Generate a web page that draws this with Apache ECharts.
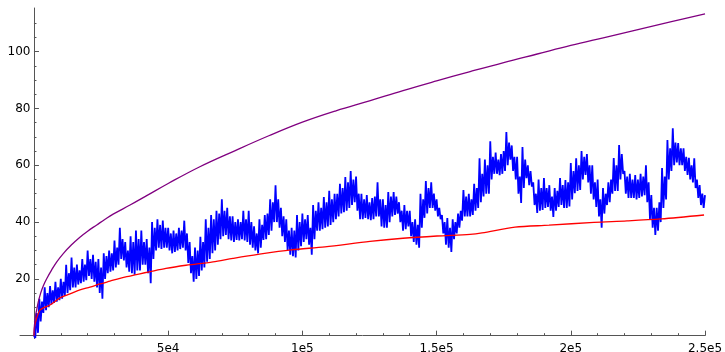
<!DOCTYPE html>
<html>
<head>
<meta charset="utf-8">
<script src="https://cdn.jsdelivr.net/npm/echarts@6/dist/echarts.min.js"></script>
<style>
  html, body { margin: 0; padding: 0; background: #fff; }
  #chart { width: 725px; height: 352px; }
</style>
</head>
<body>
<div id="chart"></div>
<script>
// Axis ranges and ticks
const xMin = -5200, xMax = 250000;
const yMin = -1, yMax = 115.4;
const xMajor = [50000, 100000, 150000, 200000, 250000];
const xTickLabels = ['5e4', '1e5', '1.5e5', '2e5', '2.5e5'];
const xMinor = [10000, 20000, 30000, 40000, 60000, 70000, 80000, 90000, 110000, 120000, 130000, 140000,
                160000, 170000, 180000, 190000, 210000, 220000, 230000, 240000];
const yMajor = [20, 40, 60, 80, 100];
const yTickLabels = ['20', '40', '60', '80', '100'];
const yMinor = [5, 10, 15, 25, 30, 35, 45, 50, 55, 65, 70, 75, 85, 90, 95, 105, 110];

// Fluctuating series: local highs and lows in each 1000-wide step along x
const blueStep = 1000;
const blueHigh = [
  0, 8, 13, 12, 17, 15, 17.5, 16, 19, 17,
  20, 19, 25, 22, 27.5, 24, 25, 23, 27, 25,
  30, 27, 28.5, 26, 27, 24, 29, 28, 30, 29,
  33.5, 31, 38, 34, 33, 30, 35, 33, 37, 34,
  37, 33, 34, 31, 40, 38, 41, 39, 40.5, 38,
  38, 36, 37, 36, 38, 37, 40.5, 36, 33, 28,
  31, 30, 34.8, 33, 41, 38, 42.5, 41, 44, 43,
  48, 44, 45, 42, 42, 40, 41, 40, 44, 41,
  44, 40, 38.5, 36, 41, 39, 42.5, 43, 48, 47,
  53, 48, 45, 42, 41, 37, 38, 37, 42.5, 40,
  43, 41, 42.5, 38, 46, 44, 47, 45, 48.8, 47,
  51, 48, 50, 50, 53.5, 52, 55.9, 54, 58, 55,
  56, 50, 50, 48, 49.5, 47, 48.5, 49, 54, 48,
  48, 46, 50.6, 49, 50.6, 49, 47, 44, 46, 44,
  44, 40, 41, 39, 50, 48, 54.5, 52, 54, 50,
  48, 45, 42.5, 40, 41.4, 38, 41, 40, 43, 44,
  51.3, 49, 50, 48, 53.5, 52, 62.5, 57, 62, 60,
  68.5, 63, 64.5, 62, 64, 65, 71.7, 68, 67, 63,
  63, 56, 66.4, 62, 60, 58, 54, 50, 55, 52,
  55.5, 52, 53, 49, 52, 51, 55.5, 53, 54.8, 54,
  60.8, 58, 62.5, 60, 65, 63, 64, 60, 60, 54,
  55, 48, 52, 50, 54, 55, 62.6, 60, 67.1, 64,
  58, 56, 57, 55, 56.6, 55, 57, 56, 60, 54,
  49.5, 45, 45, 47, 59, 56, 68.9, 66, 73, 68,
  67.8, 66, 66, 63, 62.6, 60, 62.5, 55, 53, 50,
  49.5
];
const blueLow = [
  -0.8, 1, 5, 8, 9, 10, 11, 11.5, 12, 12.5,
  13, 14, 15, 16, 17, 17, 18, 18.5, 19, 19.5,
  21, 20, 19, 17, 15, 13, 20, 22, 22.5, 23,
  24, 25, 27, 26.5, 24, 22.5, 22, 21.5, 23, 23,
  25, 25, 22, 18.5, 27, 30, 31, 30.5, 31, 31,
  30, 29, 29.5, 30, 30.5, 31, 30, 25.6, 22, 19,
  20, 21, 23, 24, 26, 27, 29, 30, 32, 34,
  35, 35.5, 34, 33.5, 33, 33.7, 33.5, 34, 33.5, 33,
  32, 31, 30, 29, 31, 33.7, 34, 35.5, 37, 40,
  40, 38, 35, 33, 30, 28.5, 28, 27.5, 30, 31.5,
  33, 34, 32, 28.5, 34, 37, 37, 37.5, 38, 38.5,
  39, 40, 41, 42, 43, 43.5, 44, 45, 46, 47,
  44, 41, 41, 41.5, 41, 40.7, 41, 42, 42, 38.5,
  38, 38, 40, 42, 42.5, 43, 40, 37, 37.5, 38.5,
  35, 33, 32, 31, 38, 41.5, 43, 45, 45, 44,
  42, 41, 36, 32, 31, 29.5, 34, 36, 38, 40.5,
  42, 42, 42, 42.5, 44, 45, 47, 49, 50, 50,
  55, 57, 57, 56.5, 57, 58, 60, 62, 58, 55,
  50, 46.7, 52, 55.5, 53, 52.5, 46, 43.2, 44, 44.3,
  45, 45.3, 44, 41.8, 44, 45.3, 46, 45, 45, 45.5,
  48, 50.2, 51, 51.3, 55, 56.6, 54, 50, 48, 45.3,
  42, 38, 43, 46, 47, 50, 51, 51, 55, 57,
  50, 48.5, 48.5, 48.5, 48, 48.5, 49, 49.5, 47, 41,
  38, 35.5, 37, 40, 45, 48, 55, 58, 60, 61,
  60, 60, 58, 56.6, 55, 54, 52, 48.5, 46, 45,
  46
];

// Lower smooth curve
const redX = [0, 300, 800, 1500, 2236, 3500, 5962, 9688, 13414, 17140, 20866, 24592, 28318, 32044,
              35770, 39496, 43000, 49183, 56635, 60361, 66695, 74147, 83462, 95758, 108427,
              125194, 137489, 150158, 162454, 166925, 179221, 191889, 208656, 220952, 233620, 249642];
const redY = [0, 3.5, 5.5, 7.5, 9, 9.8, 10.8, 13.3, 14.7, 16.1, 17.1, 18.2, 19.2, 20.2,
              21.0, 21.8, 22.5, 23.7, 24.8, 25.2, 26, 27.2, 28.6, 30.2, 31.3,
              33.2, 34.3, 35.1, 35.7, 36.2, 38.2, 38.9, 39.9, 40.4, 41.1, 42.5];

// Upper envelope curve
const purpleX = [0, 100, 300, 600, 1000, 1600, 2500, 3500, 5000, 6500, 8500, 11000, 14000, 17000,
                 20000, 23400, 26500, 29500, 35800, 42000, 50000, 61800, 75000, 87500, 100000,
                 112500, 125000, 137500, 150000, 162500, 175000, 187500, 200000, 212500, 225000,
                 237500, 250000];
const purpleY = [0, 2.5, 4.8, 7, 9, 11.8, 15, 17.6, 20.5, 23, 26, 29, 32, 34.6,
                 36.8, 39, 41, 42.8, 46, 49.3, 53.6, 59.5, 65.2, 70.4, 75.2,
                 79.2, 82.7, 86.3, 89.7, 93, 96.2, 99.2, 102.2, 105, 107.8,
                 110.6, 113.3];

const zip = (xs, ys) => xs.map((x, i) => [x, ys[i]]);

// Trace each step high then low, so the path sweeps the whole range of the walk
const blueData = [];
blueHigh.forEach((h, i) => {
  blueData.push([i * blueStep, h]);
  if (i < blueHigh.length - 1) blueData.push([i * blueStep + blueStep / 2, blueLow[i]]);
});

const axisColor = '#555555';
const labelFont = { fontFamily: 'DejaVu Sans', fontSize: 12, color: '#000' };

const chart = echarts.init(document.getElementById('chart'), null, { renderer: 'canvas' });
chart.setOption({
  animation: false,
  backgroundColor: '#ffffff',
  grid: { left: 20, top: 8, width: 685, height: 330.5, containLabel: false, outerBoundsMode: 'none' },
  xAxis: [
    {
      type: 'value', min: xMin, max: xMax, position: 'bottom',
      axisLine: { show: true, onZero: true, onZeroAxisIndex: 0, lineStyle: { color: axisColor, width: 1 } },
      axisTick: { show: true, inside: true, length: 5, customValues: xMajor, lineStyle: { color: axisColor } },
      axisLabel: Object.assign({ show: true, margin: 4, customValues: xMajor,
        formatter: v => xTickLabels[xMajor.indexOf(v)] }, labelFont),
      splitLine: { show: false }
    },
    {
      type: 'value', min: xMin, max: xMax, position: 'top',
      axisLine: { show: false, onZero: true, onZeroAxisIndex: 0 },
      axisTick: { show: true, inside: false, length: 2.5, customValues: xMinor, lineStyle: { color: axisColor } },
      axisLabel: { show: false },
      splitLine: { show: false }
    }
  ],
  yAxis: [
    {
      type: 'value', min: yMin, max: yMax, position: 'left',
      axisLine: { show: true, onZero: true, onZeroAxisIndex: 0, lineStyle: { color: axisColor, width: 1 } },
      axisTick: { show: true, inside: true, length: 5, customValues: yMajor, lineStyle: { color: axisColor } },
      axisLabel: Object.assign({ show: true, margin: -10.5, customValues: yMajor,
        formatter: v => yTickLabels[yMajor.indexOf(v)] }, labelFont),
      splitLine: { show: false }
    },
    {
      type: 'value', min: yMin, max: yMax, position: 'right',
      axisLine: { show: false, onZero: true, onZeroAxisIndex: 0 },
      axisTick: { show: true, inside: false, length: 2.5, customValues: yMinor, lineStyle: { color: axisColor } },
      axisLabel: { show: false },
      splitLine: { show: false }
    }
  ],
  series: [
    {
      type: 'line', data: blueData, xAxisIndex: 0, yAxisIndex: 0,
      showSymbol: false, sampling: null, z: 2,
      lineStyle: { color: '#0000ff', width: 1.8 }
    },
    {
      type: 'line', data: zip(redX, redY), xAxisIndex: 0, yAxisIndex: 0,
      showSymbol: false, smooth: 0.3, z: 3,
      lineStyle: { color: '#ff0000', width: 1.3 }
    },
    {
      type: 'line', data: zip(purpleX, purpleY), xAxisIndex: 0, yAxisIndex: 0,
      showSymbol: false, smooth: 0.4, z: 4,
      lineStyle: { color: '#800080', width: 1.3 }
    }
  ]
});
</script>
</body>
</html>
